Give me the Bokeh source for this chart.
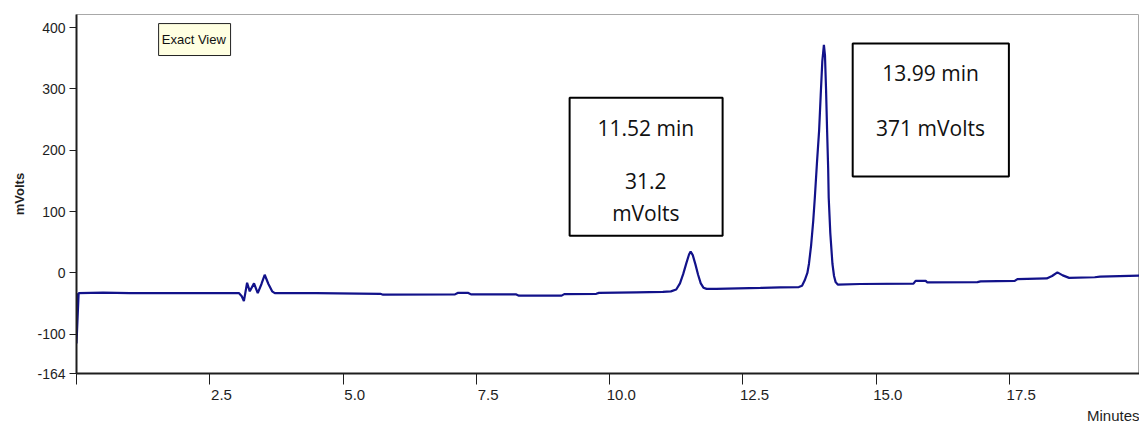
from bokeh.plotting import figure
from bokeh.models import FixedTicker, BoxAnnotation, Label, Title, Range1d, LinearAxis
from bokeh.embed import file_html
from bokeh.resources import INLINE

# chromatogram trace (minutes, mVolts)
time_min = [0.00, 0.00, 0.04, 0.50, 1.00, 2.00, 3.05, 3.10, 3.14, 3.20, 3.25, 3.33, 3.40,
            3.47, 3.53, 3.60, 3.67, 3.72, 4.50, 5.70, 5.75, 7.10, 7.15, 7.35, 7.40, 8.25,
            8.30, 9.10, 9.15, 9.75, 9.80, 10.50, 11.00, 11.15, 11.25, 11.32, 11.38, 11.44,
            11.49, 11.52, 11.56, 11.61, 11.66, 11.71, 11.76, 11.82, 12.00, 12.83, 13.20,
            13.55, 13.61, 13.66, 13.71, 13.74, 13.78, 13.82, 13.85, 13.89, 13.93, 13.96,
            13.99, 14.02, 14.04, 14.06, 14.08, 14.10, 14.11, 14.14, 14.18, 14.21, 14.24,
            14.28, 14.70, 15.70, 15.74, 15.93, 15.96, 16.90, 16.96, 17.60, 17.65, 18.20,
            18.30, 18.40, 18.50, 18.62, 19.10, 19.20, 19.94]
signal_mv = [-33, -115, -33, -32, -33, -33, -33, -38, -46, -16, -30, -17, -33,
             -18, -3, -18, -30, -33, -33, -34, -35.5, -35, -32.6, -32.6, -35, -35,
             -37, -37, -34.6, -34, -32.5, -31.6, -31, -30, -27, -17, -2, 16,
             30, 35, 29, 14, -3, -17, -24, -26, -26, -24.5, -23.5,
             -23, -21, -12, 0, 15, 45, 85, 123, 180, 232, 290,
             345, 372, 355, 300, 232, 170, 123, 65, 15, -5, -15,
             -19, -18, -17.5, -13, -13, -15.5, -15, -13.7, -13, -10, -9,
             -5, 1, -4, -8, -7, -6, -4.4]

x_ticks = [0, 2.5, 5.0, 7.5, 10.0, 12.5, 15.0, 17.5]
x_tick_labels = ["", "2.5", "5.0", "7.5", "10.0", "12.5", "15.0", "17.5"]
y_ticks = [-164, -100, 0, 100, 200, 300, 400]
y_tick_labels = ["-164", "-100", "0", "100", "200", "300", "400"]

peak1_lines = ["11.52 min", "31.2", "mVolts"]
peak2_lines = ["13.99 min", "371 mVolts"]

X0, X1 = 0, 19.94
LABEL_SHIFT = 0.22  # tick labels sit just right of their tick marks

p = figure(width=1139, height=426,
           x_range=Range1d(X0, X1), y_range=Range1d(-164, 421.5),
           output_backend="svg", toolbar_location=None,
           min_border_left=76, min_border_right=0, min_border_top=14, min_border_bottom=53)
p.xgrid.visible = False
p.ygrid.visible = False
p.outline_line_color = "#a8a8a8"
p.outline_line_width = 1
p.background_fill_color = "white"

p.line(time_min, signal_mv, line_color="#12128a", line_width=2.2)

tick_font = "Liberation Sans"
dark = "#1e1e1e"

# main x axis: ticks only
p.xaxis.ticker = FixedTicker(ticks=x_ticks)
p.xaxis.major_label_overrides = {t: "" for t in x_ticks}
p.xaxis.minor_tick_line_color = None
p.xaxis.major_tick_out = 11
p.xaxis.major_tick_in = 0
p.xaxis.major_label_standoff = 2
p.xaxis.axis_line_width = 2
p.xaxis.axis_line_color = dark
p.xaxis.major_tick_line_color = dark

# label axis, offset so labels start at the tick
p.extra_x_ranges = {"lab": Range1d(X0 - LABEL_SHIFT, X1 - LABEL_SHIFT)}
lab_axis = LinearAxis(x_range_name="lab", ticker=FixedTicker(ticks=x_ticks),
                      major_label_overrides={t: l for t, l in zip(x_ticks, x_tick_labels)},
                      axis_line_color=None, major_tick_line_color=None,
                      minor_tick_line_color=None, major_tick_out=0, major_tick_in=0,
                      major_label_standoff=5, major_label_text_font=tick_font,
                      major_label_text_font_size="15px", major_label_text_color=dark)
p.add_layout(lab_axis, "below")

p.yaxis.ticker = FixedTicker(ticks=y_ticks)
p.yaxis.major_label_overrides = {t: l for t, l in zip(y_ticks, y_tick_labels)}
p.yaxis.minor_tick_line_color = None
p.yaxis.major_tick_out = 7
p.yaxis.major_tick_in = 0
p.yaxis.major_label_standoff = 4
p.yaxis.major_label_text_font = tick_font
p.yaxis.major_label_text_font_size = "14px"
p.yaxis.major_label_text_color = dark
p.yaxis.axis_line_width = 2
p.yaxis.axis_line_color = dark
p.yaxis.major_tick_line_color = dark
p.yaxis.axis_label = "mVolts"
p.yaxis.axis_label_text_font = tick_font
p.yaxis.axis_label_text_font_style = "bold"
p.yaxis.axis_label_text_font_size = "13px"
p.yaxis.axis_label_text_color = dark
p.yaxis.axis_label_standoff = 7

p.add_layout(Title(text="Minutes", align="right", text_font=tick_font,
                   text_font_size="15px", text_font_style="normal",
                   standoff=4, text_color=dark), "below")

# "Exact View" tag
p.add_layout(BoxAnnotation(left=1.54, right=2.89, bottom=354.6, top=406.7,
                           fill_color="#ffffe1", fill_alpha=1.0,
                           line_color="#222222", line_alpha=1.0, line_width=1))
p.add_layout(Label(x=1.60, y=380.6, text="Exact View", text_font=tick_font,
                   text_font_size="13px", text_baseline="middle", text_align="left",
                   text_color="#111111"))

# peak boxes
p.add_layout(BoxAnnotation(left=9.25, right=12.12, bottom=60.8, top=285.9,
                           fill_color="white", fill_alpha=1.0,
                           line_color="black", line_alpha=1.0, line_width=2))
for txt, yv in zip(peak1_lines, [236.9, 150.6, 98.4]):
    p.add_layout(Label(x=10.68, y=yv, text=txt, text_font="Open Sans",
                       text_font_size="21px", text_align="center",
                       text_baseline="middle", text_color="#111111"))

p.add_layout(BoxAnnotation(left=14.56, right=17.49, bottom=157.1, top=374.0,
                           fill_color="white", fill_alpha=1.0,
                           line_color="black", line_alpha=1.0, line_width=2))
for txt, yv in zip(peak2_lines, [326.8, 236.9]):
    p.add_layout(Label(x=16.02, y=yv, text=txt, text_font="Open Sans",
                       text_font_size="21px", text_align="center",
                       text_baseline="middle", text_color="#111111"))

open("out.html", "w").write(file_html(p, INLINE))
